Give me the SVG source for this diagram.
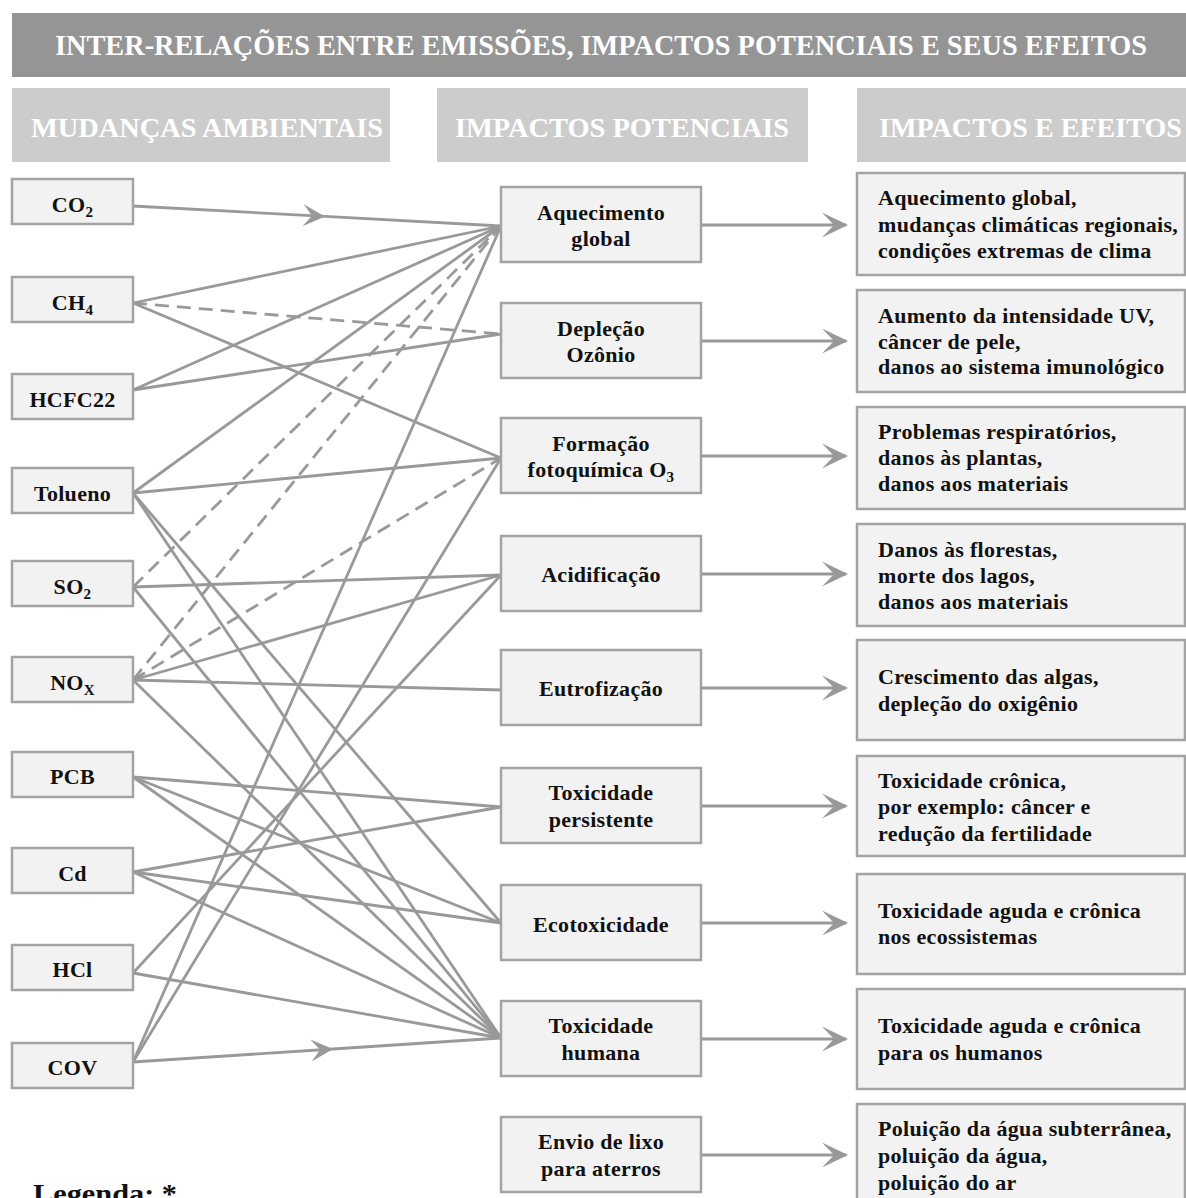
<svg xmlns="http://www.w3.org/2000/svg" width="1186" height="1198" viewBox="0 0 1186 1198">
<style>
text{font-family:"Liberation Serif","Times New Roman",serif;font-weight:bold;}
.title{fill:#ffffff;font-size:29px;}
.hdr{fill:#ffffff;font-size:28px;}
.box{fill:#f2f2f2;stroke:#a3a3a3;stroke-width:2.5;}
.lbl{fill:#111111;font-size:22px;letter-spacing:0.3px;}
.mid{text-anchor:middle;}
.sub{font-size:15px;}
.c{fill:none;stroke:#999999;stroke-width:2.8;}
.d{stroke-dasharray:14 8;}
</style>
<defs>
<marker id="ah" markerUnits="userSpaceOnUse" markerWidth="30" markerHeight="30" viewBox="0 0 30 30" refX="26" refY="15" orient="auto">
<path d="M28,15 L2,2.5 L14,15 L2,27.5 Z" fill="#999999"/>
</marker>
<marker id="am" markerUnits="userSpaceOnUse" markerWidth="26" markerHeight="26" viewBox="0 0 26 26" refX="24" refY="13" orient="auto">
<path d="M24,13 L2,2 L11,13 L2,24 Z" fill="#999999"/>
</marker>
</defs>

<g id="title">
<rect x="12" y="13" width="1180" height="64" fill="#959595"/>
<text class="title" x="55" y="55" textLength="1092" lengthAdjust="spacingAndGlyphs">INTER-RELAÇÕES ENTRE EMISSÕES, IMPACTOS POTENCIAIS E SEUS EFEITOS</text>
</g>
<g id="headers">
<rect x="12" y="88" width="378" height="74" fill="#cccccc"/>
<text class="hdr" x="31" y="137" textLength="352" lengthAdjust="spacingAndGlyphs">MUDANÇAS AMBIENTAIS</text>
<rect x="437" y="88" width="371" height="74" fill="#cccccc"/>
<text class="hdr" x="455" y="137" textLength="334" lengthAdjust="spacingAndGlyphs">IMPACTOS POTENCIAIS</text>
<rect x="857" y="88" width="335" height="74" fill="#cccccc"/>
<text class="hdr" x="879" y="137" textLength="303" lengthAdjust="spacingAndGlyphs">IMPACTOS E EFEITOS</text>
</g>

<g id="connectors">
<polyline class="c" points="133,206 325,216.4 501,226" marker-mid="url(#am)"/>
<line class="c" x1="133" y1="303" x2="501" y2="226"/>
<line class="c" x1="133" y1="303" x2="501" y2="458"/>
<line class="c d" x1="133" y1="303" x2="501" y2="334"/>
<line class="c" x1="133" y1="390" x2="501" y2="226"/>
<line class="c" x1="133" y1="390" x2="501" y2="334"/>
<line class="c" x1="133" y1="493" x2="501" y2="226"/>
<line class="c" x1="133" y1="493" x2="501" y2="458"/>
<line class="c" x1="133" y1="493" x2="501" y2="923"/>
<line class="c" x1="133" y1="493" x2="501" y2="1038"/>
<line class="c d" x1="133" y1="587" x2="501" y2="226"/>
<line class="c" x1="133" y1="587" x2="501" y2="575"/>
<line class="c" x1="133" y1="587" x2="501" y2="1038"/>
<line class="c d" x1="133" y1="680" x2="501" y2="226"/>
<line class="c d" x1="133" y1="680" x2="501" y2="458"/>
<line class="c" x1="133" y1="680" x2="501" y2="575"/>
<line class="c" x1="133" y1="680" x2="501" y2="690"/>
<line class="c" x1="133" y1="680" x2="501" y2="1038"/>
<line class="c" x1="133" y1="777" x2="501" y2="807"/>
<line class="c" x1="133" y1="777" x2="501" y2="923"/>
<line class="c" x1="133" y1="777" x2="501" y2="1038"/>
<line class="c" x1="133" y1="872" x2="501" y2="807"/>
<line class="c" x1="133" y1="872" x2="501" y2="923"/>
<line class="c" x1="133" y1="872" x2="501" y2="1038"/>
<line class="c" x1="133" y1="973" x2="501" y2="575"/>
<line class="c" x1="133" y1="973" x2="501" y2="1038"/>
<line class="c" x1="133" y1="1062" x2="501" y2="226"/>
<line class="c" x1="133" y1="1062" x2="501" y2="458"/>
<polyline class="c" points="133,1062 333,1049 501,1038" marker-mid="url(#am)"/>
<line class="c" x1="701" y1="225" x2="846" y2="225" marker-end="url(#ah)"/>
<line class="c" x1="701" y1="341" x2="846" y2="341" marker-end="url(#ah)"/>
<line class="c" x1="701" y1="456" x2="846" y2="456" marker-end="url(#ah)"/>
<line class="c" x1="701" y1="574" x2="846" y2="574" marker-end="url(#ah)"/>
<line class="c" x1="701" y1="688" x2="846" y2="688" marker-end="url(#ah)"/>
<line class="c" x1="701" y1="806" x2="846" y2="806" marker-end="url(#ah)"/>
<line class="c" x1="701" y1="923" x2="846" y2="923" marker-end="url(#ah)"/>
<line class="c" x1="701" y1="1039" x2="846" y2="1039" marker-end="url(#ah)"/>
<line class="c" x1="701" y1="1155" x2="846" y2="1155" marker-end="url(#ah)"/>
</g>

<g id="n-co2"><rect class="box" x="12" y="179" width="121" height="45"/><text class="lbl mid" x="72.5" y="212">CO<tspan class="sub" dy="5">2</tspan></text></g>
<g id="n-ch4"><rect class="box" x="12" y="277" width="121" height="45"/><text class="lbl mid" x="72.5" y="310">CH<tspan class="sub" dy="5">4</tspan></text></g>
<g id="n-hcfc22"><rect class="box" x="12" y="374" width="121" height="45"/><text class="lbl mid" x="72.5" y="407">HCFC22</text></g>
<g id="n-tolueno"><rect class="box" x="12" y="468" width="121" height="45"/><text class="lbl mid" x="72.5" y="501">Tolueno</text></g>
<g id="n-so2"><rect class="box" x="12" y="561" width="121" height="45"/><text class="lbl mid" x="72.5" y="594">SO<tspan class="sub" dy="5">2</tspan></text></g>
<g id="n-nox"><rect class="box" x="12" y="657" width="121" height="45"/><text class="lbl mid" x="72.5" y="690">NO<tspan class="sub" dy="5">X</tspan></text></g>
<g id="n-pcb"><rect class="box" x="12" y="752" width="121" height="45"/><text class="lbl mid" x="72.5" y="784">PCB</text></g>
<g id="n-cd"><rect class="box" x="12" y="848" width="121" height="45"/><text class="lbl mid" x="72.5" y="881">Cd</text></g>
<g id="n-hcl"><rect class="box" x="12" y="945" width="121" height="45"/><text class="lbl mid" x="72.5" y="977">HCl</text></g>
<g id="n-cov"><rect class="box" x="12" y="1043" width="121" height="45"/><text class="lbl mid" x="72.5" y="1075">COV</text></g>

<g id="m-aquecimento"><rect class="box" x="501" y="187" width="200" height="75"/><text class="lbl mid" x="601" y="220">Aquecimento</text><text class="lbl mid" x="601" y="246">global</text></g>
<g id="m-deplecao"><rect class="box" x="501" y="303" width="200" height="75"/><text class="lbl mid" x="601" y="336">Depleção</text><text class="lbl mid" x="601" y="362">Ozônio</text></g>
<g id="m-formacao"><rect class="box" x="501" y="418" width="200" height="75"/><text class="lbl mid" x="601" y="451">Formação</text><text class="lbl mid" x="601" y="477">fotoquímica O<tspan class="sub" dy="5">3</tspan></text></g>
<g id="m-acidificacao"><rect class="box" x="501" y="536" width="200" height="75"/><text class="lbl mid" x="601" y="582">Acidificação</text></g>
<g id="m-eutrofizacao"><rect class="box" x="501" y="650" width="200" height="75"/><text class="lbl mid" x="601" y="696">Eutrofização</text></g>
<g id="m-toxpers"><rect class="box" x="501" y="768" width="200" height="75"/><text class="lbl mid" x="601" y="800">Toxicidade</text><text class="lbl mid" x="601" y="827">persistente</text></g>
<g id="m-ecotox"><rect class="box" x="501" y="885" width="200" height="75"/><text class="lbl mid" x="601" y="932">Ecotoxicidade</text></g>
<g id="m-toxhum"><rect class="box" x="501" y="1001" width="200" height="75"/><text class="lbl mid" x="601" y="1033">Toxicidade</text><text class="lbl mid" x="601" y="1060">humana</text></g>
<g id="m-envio"><rect class="box" x="501" y="1117" width="200" height="75"/><text class="lbl mid" x="601" y="1149">Envio de lixo</text><text class="lbl mid" x="601" y="1176">para aterros</text></g>

<g id="r-1"><rect class="box" x="857" y="173" width="328" height="102"/><text class="lbl" x="878" y="205">Aquecimento global,</text><text class="lbl" x="878" y="232">mudanças climáticas regionais,</text><text class="lbl" x="878" y="258">condições extremas de clima</text></g>
<g id="r-2"><rect class="box" x="857" y="290" width="328" height="102"/><text class="lbl" x="878" y="323">Aumento da intensidade UV,</text><text class="lbl" x="878" y="349">câncer de pele,</text><text class="lbl" x="878" y="374">danos ao sistema imunológico</text></g>
<g id="r-3"><rect class="box" x="857" y="407" width="328" height="102"/><text class="lbl" x="878" y="439">Problemas respiratórios,</text><text class="lbl" x="878" y="465">danos às plantas,</text><text class="lbl" x="878" y="491">danos aos materiais</text></g>
<g id="r-4"><rect class="box" x="857" y="524" width="328" height="102"/><text class="lbl" x="878" y="557">Danos às florestas,</text><text class="lbl" x="878" y="583">morte dos lagos,</text><text class="lbl" x="878" y="609">danos aos materiais</text></g>
<g id="r-5"><rect class="box" x="857" y="640" width="328" height="100"/><text class="lbl" x="878" y="684">Crescimento das algas,</text><text class="lbl" x="878" y="711">depleção do oxigênio</text></g>
<g id="r-6"><rect class="box" x="857" y="756" width="328" height="100"/><text class="lbl" x="878" y="788">Toxicidade crônica,</text><text class="lbl" x="878" y="814">por exemplo: câncer e</text><text class="lbl" x="878" y="841">redução da fertilidade</text></g>
<g id="r-7"><rect class="box" x="857" y="874" width="328" height="100"/><text class="lbl" x="878" y="918">Toxicidade aguda e crônica</text><text class="lbl" x="878" y="944">nos ecossistemas</text></g>
<g id="r-8"><rect class="box" x="857" y="989" width="328" height="100"/><text class="lbl" x="878" y="1033">Toxicidade aguda e crônica</text><text class="lbl" x="878" y="1060">para os humanos</text></g>
<g id="r-9"><rect class="box" x="857" y="1104" width="328" height="110"/><text class="lbl" x="878" y="1136">Poluição da água subterrânea,</text><text class="lbl" x="878" y="1163">poluição da água,</text><text class="lbl" x="878" y="1190">poluição do ar</text></g>

<g id="legend"><text x="33" y="1203" font-size="28" fill="#111111" textLength="144" lengthAdjust="spacingAndGlyphs">Legenda: *</text></g>
</svg>
